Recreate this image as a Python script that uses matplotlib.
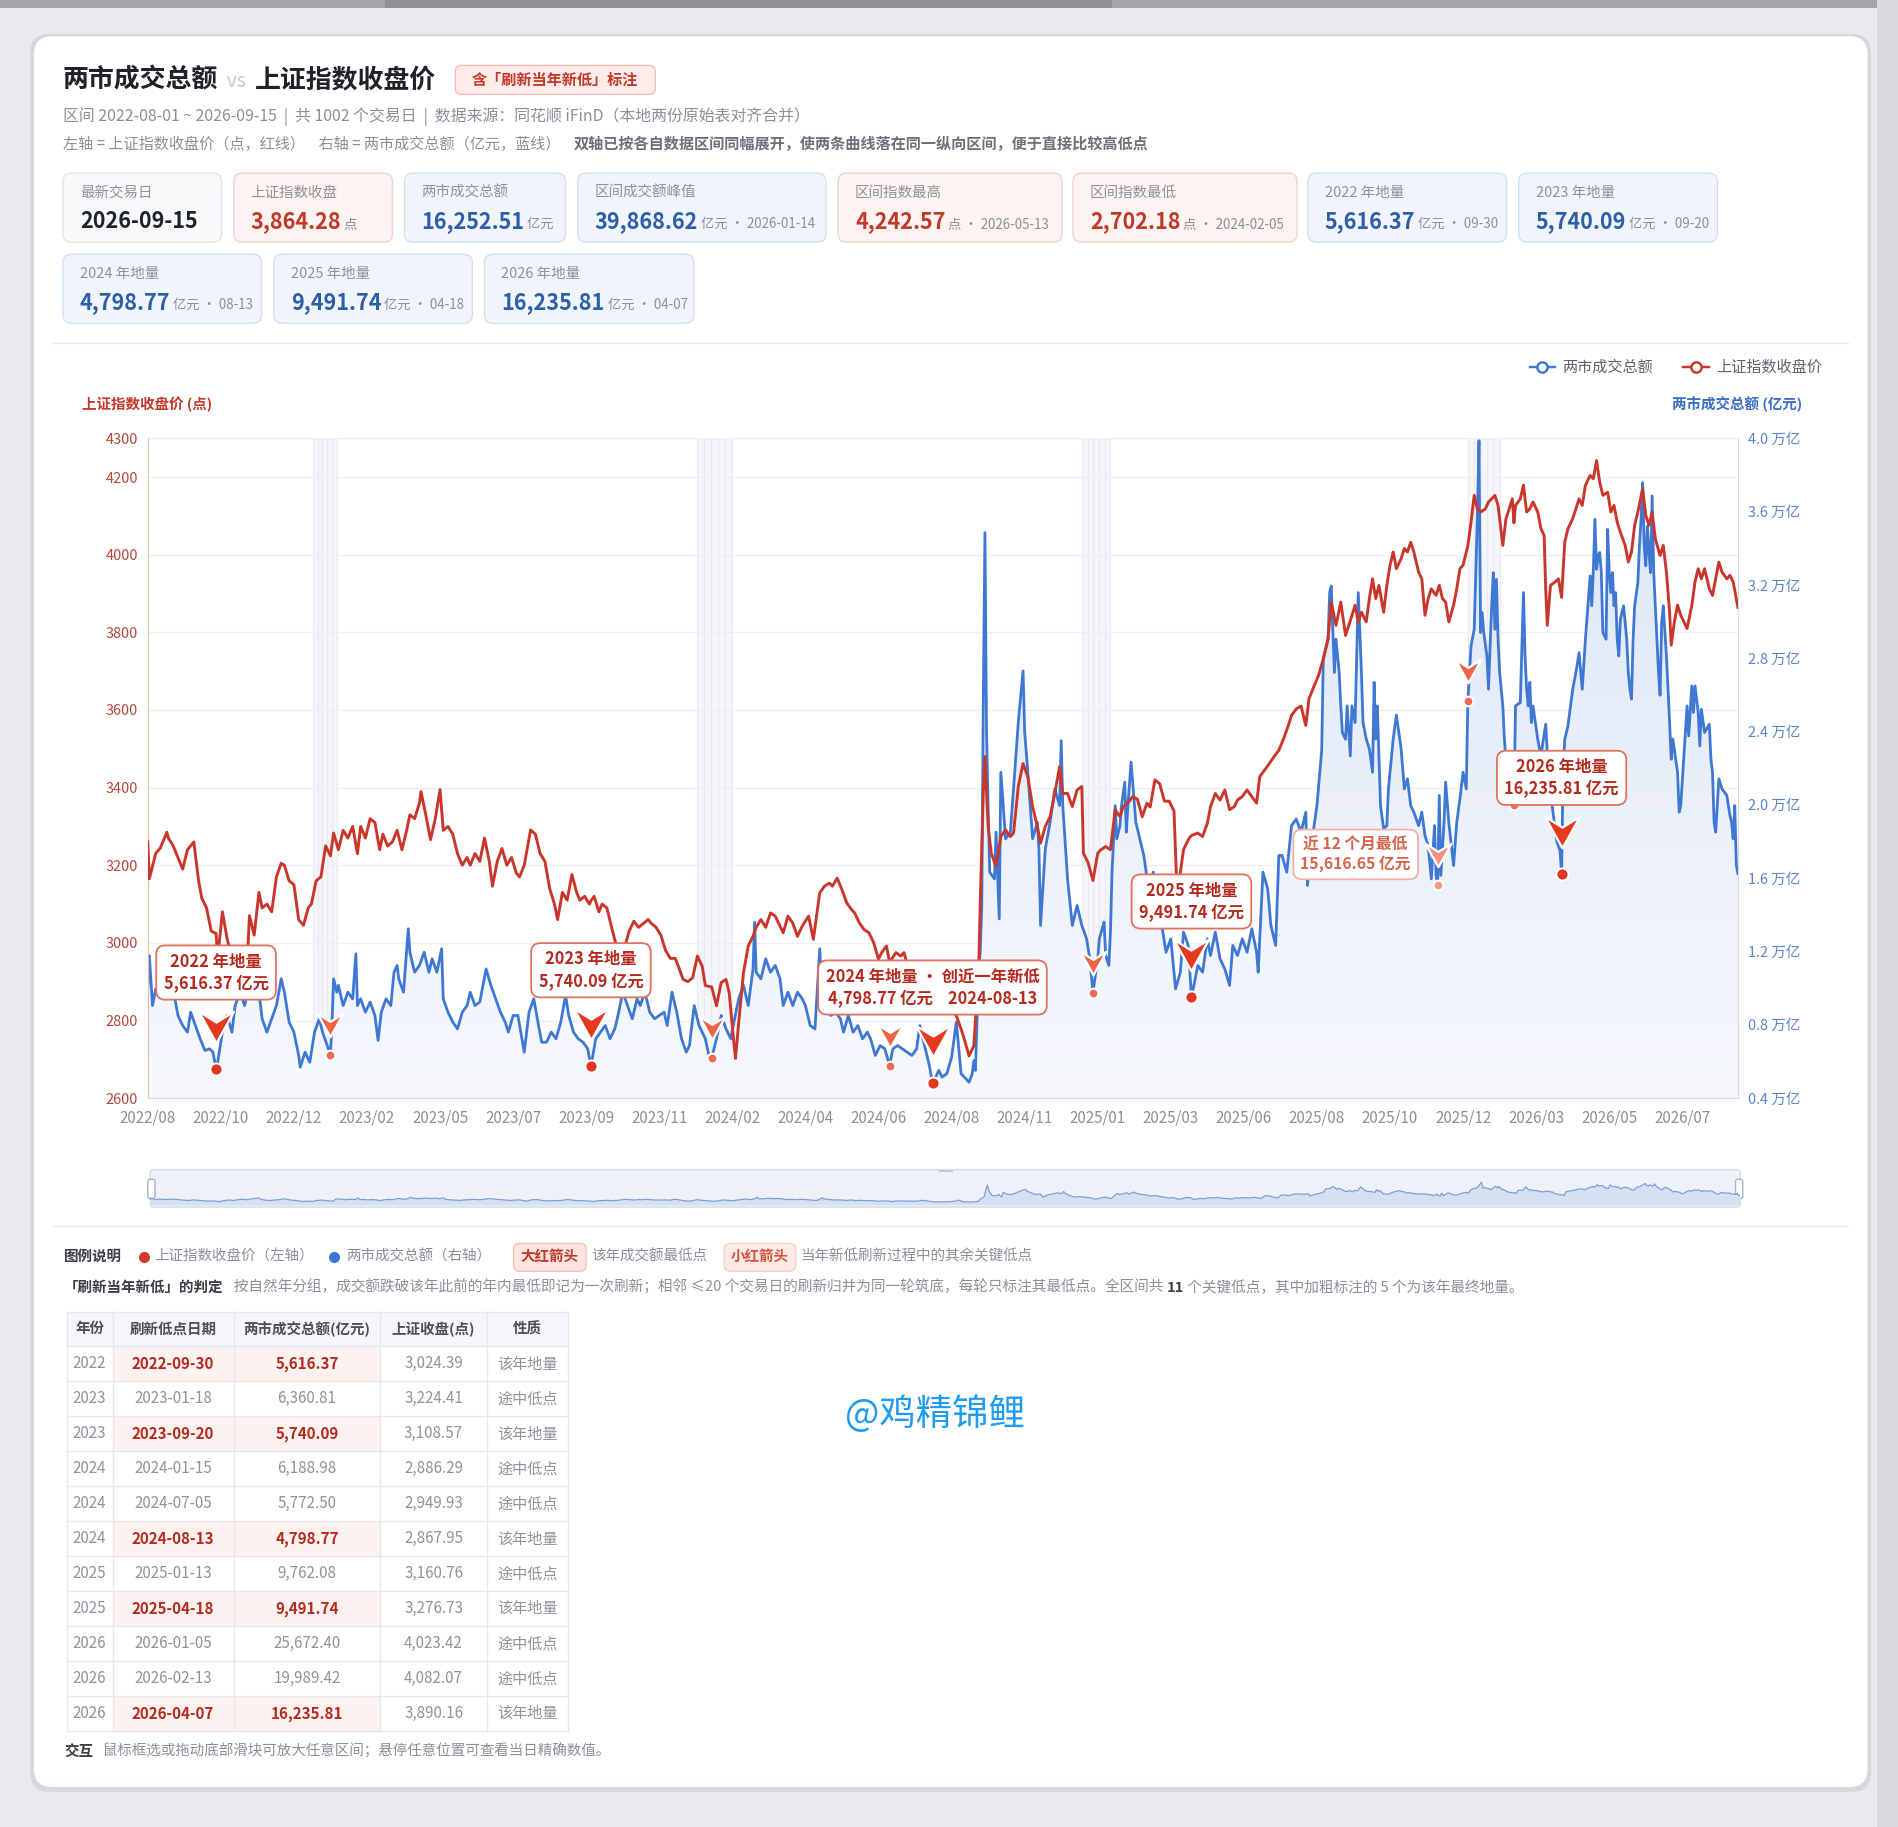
import numpy as np
import matplotlib
matplotlib.use('Agg')
import matplotlib.pyplot as plt
from matplotlib.patches import FancyBboxPatch, Rectangle
from matplotlib.path import Path
from matplotlib.colors import LinearSegmentedColormap
from matplotlib.transforms import blended_transform_factory, ScaledTranslation

plt.rcParams['font.family'] = ['Noto Sans CJK SC', 'DejaVu Sans']
plt.rcParams['axes.unicode_minus'] = False

# ------------------------------------------------------------------ data
# trading-day number (0 = 2022-08-01, 1001 = 2026-09-15), value
sh_series = [
    (0,3260),(1,3165),(5,3230),(8,3245),(12,3285),(13,3270),(16,3250),(19,3220),(22,3190),(25,3240),
    (29,3260),(32,3160),(34,3115),(37,3090),(40,3030),(44,2960),(47,3080),(50,3010),(53,2960),(55,2900),
    (58,2930),(60,2960),(62,2895),(64,3070),(67,3020),(70,3130),(72,3090),(75,3100),(78,3080),(81,3170),
    (84,3205),(86,3200),(89,3160),(92,3150),(95,3060),(98,3045),(101,3090),(103,3100),(106,3160),(109,3170),
    (112,3250),(117,3283),(120,3240),(123,3290),(126,3270),(129,3300),(132,3230),(134,3300),(137,3270),(140,3320),
    (143,3310),(146,3240),(148,3280),(151,3250),(154,3260),(157,3290),(160,3240),(163,3290),(165,3330),(168,3320),
    (171,3360),(172,3390),(175,3330),(178,3266),(181,3320),(184,3395),(186,3290),(189,3300),(192,3280),(195,3230),
    (198,3200),(201,3220),(203,3200),(206,3230),(209,3210),(212,3270),(215,3210),(217,3146),(220,3210),(223,3243),
    (226,3200),(229,3220),(232,3180),(234,3170),(237,3200),(241,3291),(244,3280),(247,3230),(250,3210),(253,3140),
    (256,3100),(258,3060),(261,3130),(264,3110),(267,3176),(270,3130),(272,3110),(275,3120),(278,3100),(281,3120),
    (284,3080),(286,3100),(289,3090),(292,3040),(295,2992),(298,2980),(301,3000),(303,3030),(306,3056),(309,3040),
    (312,3050),(315,3060),(317,3050),(320,3040),(323,3020),(326,2980),(329,2960),(332,2960),(334,2940),(337,2906),
    (340,2900),(343,2910),(346,2966),(349,2940),(351,2890),(358,2838),(361,2898),(364,2906),(366,2872),(369,2740),
    (370,2702.18),(372,2795),(375,2923),(378,2992),(381,3017),(383,3040),(386,3060),(389,3040),(392,3077),(395,3069),
    (398,3043),(400,3026),(403,3069),(406,3051),(409,3017),(412,3043),(416,3069),(419,3009),(423,3129),(426,3146),
    (429,3154),(431,3146),(434,3167),(437,3137),(440,3103),(443,3086),(445,3077),(448,3051),(451,3034),(454,3026),
    (457,3000),(460,2958),(462,2975),(465,2992),(471,2975),(474,2966),(476,2975),(479,2932),(482,2900),(485,2890),
    (488,2880),(491,2870),(497,2860),(500,2850),(503,2840),(506,2830),(509,2812),(512,2778),(514,2752),(517,2709),
    (520,2735),(522,2860),(523,2923),(524,3094),(526,3394),(527,3480),(529,3300),(531,3231),(534,3197),(537,3274),
    (540,3291),(543,3274),(545,3283),(548,3403),(551,3462),(554,3428),(557,3351),(560,3300),(562,3257),(565,3300),
    (568,3325),(571,3386),(574,3454),(576,3385),(579,3385),(582,3351),(585,3394),(588,3403),(589,3231),(592,3206),
    (598,3231),(600,3240),(603,3248),(606,3240),(609,3343),(612,3325),(614,3351),(617,3360),(620,3377),(623,3370),
    (626,3325),(629,3360),(631,3350),(634,3420),(637,3410),(640,3365),(643,3365),(646,3340),(648,3120),(650,3180),
    (652,3240),(655,3266),(661,3283),(664,3274),(667,3308),(669,3351),(672,3385),(675,3368),(678,3394),(681,3343),
    (684,3351),(686,3368),(689,3377),(692,3394),(695,3377),(698,3360),(700,3428),(703,3445),(706,3462),(709,3480),
    (712,3496),(715,3526),(718,3560),(720,3586),(723,3603),(726,3610),(729,3560),(731,3629),(734,3660),(737,3689),
    (740,3732),(743,3784),(745,3878),(748,3818),(751,3878),(754,3792),(757,3830),(760,3870),(762,3827),(764,3852),
    (767,3827),(769,3887),(771,3938),(773,3887),(775,3921),(778,3852),(780,3921),(782,3973),(784,4007),(786,3964),
    (789,3990),(791,4016),(793,4007),(795,4032),(797,4007),(800,3955),(802,3938),(804,3844),(806,3887),(808,3912),
    (811,3895),(813,3921),(815,3887),(817,3878),(819,3827),(822,3870),(824,3912),(826,3964),(828,3973),(833,4084),
    (835,4153),(837,4118),(839,4110),(842,4118),(844,4136),(846,4144),(848,4153),(850,4127),(853,4024),(855,4093),
    (857,4118),(859,4144),(861,4127),(864,4144),(866,4179),(868,4110),(870,4118),(872,4136),(875,4110),(877,4067),
    (879,4050),(880,3912),(881,3818),(883,3921),(886,3930),(888,3938),(892,4033),(894,4067),(897,4093),(899,4118),
    (901,4144),(903,4127),(905,4179),(908,4204),(910,4196),(912,4242.57),(914,4187),(916,4153),(919,4161),(921,4110),
    (923,4127),(925,4084),(927,4058),(930,4024),(932,3981),(934,4007),(936,4076),(938,4110),(941,4170),(943,4101),
    (945,4076),(947,4110),(949,4041),(952,3998),(954,4024),(956,3955),(958,3852),(959,3767),(961,3827),(963,3870),
    (965,3844),(967,3827),(969,3810),(972,3870),(974,3930),(976,3964),(978,3938),(980,3964),(983,3912),(985,3895),
    (987,3938),(989,3981),(991,3955),(994,3938),(996,3947),(998,3930),(1000,3887),(1001,3864.28),
]

amt_series = [
    (0,9960),(1,11780),(3,9050),(5,9960),(8,9780),(10,9420),(13,9780),(16,9960),(19,8510),(22,7960),
    (25,7600),(27,8690),(30,7960),(33,7240),(36,6600),(39,6690),(41,6510),(44,5960),(47,7600),(50,8510),
    (53,7600),(55,9050),(58,9780),(61,9050),(64,10330),(68,12180),(70,9780),(72,8330),(75,7600),(78,8330),
    (81,9050),(84,10510),(86,9780),(89,8150),(92,7600),(95,6330),(96,5690),(99,6510),(102,5960),(105,7600),
    (108,8330),(110,7600),(113,6870),(116,8150),(117,10510),(119,9780),(120,10150),(123,9050),(126,9780),(129,9420),
    (131,11870),(132,9050),(134,9420),(137,8690),(140,9240),(143,8510),(145,7150),(147,8690),(150,9420),(153,9050),
    (155,10870),(157,11240),(158,10510),(161,9780),(164,13240),(165,11960),(168,10870),(171,11240),(174,11960),(177,10870),
    (179,11600),(182,10870),(185,12150),(186,9420),(189,8690),(192,8150),(195,7780),(198,8690),(201,9050),(203,9780),
    (206,9050),(209,9240),(213,11050),(216,10150),(219,9420),(222,8690),(225,8150),(227,7600),(230,8510),(233,8510),
    (237,6510),(240,8690),(243,9420),(246,7960),(248,7050),(251,7050),(254,7600),(257,7240),(260,8150),(263,9600),
    (265,8510),(268,7600),(271,7240),(274,7050),(277,6690),(282,7240),(285,7600),(288,7960),(291,7240),(294,7780),
    (296,8510),(299,9780),(302,9050),(305,8330),(308,9420),(310,9050),(313,9780),(316,8690),(319,8330),(322,8510),
    (325,8690),(327,7960),(330,9780),(333,8690),(336,7240),(339,6510),(341,6870),(344,9050),(347,7960),(351,7240),
    (353,6420),(358,7240),(361,8510),(364,7780),(367,7240),(369,8150),(372,9420),(375,10150),(378,9050),(381,11050),
    (382,13600),(383,10870),(386,10510),(389,11600),(392,10870),(395,11240),(398,10510),(400,9050),(403,9780),(406,9050),
    (409,9780),(412,9420),(414,9050),(417,7960),(420,7780),(423,12150),(424,10510),(427,9420),(430,8510),(433,8690),
    (436,8330),(438,7600),(441,8510),(444,7600),(447,7960),(450,7240),(453,7600),(455,7240),(458,6330),(461,6870),
    (464,6690),(469,6690),(472,6870),(475,6690),(478,6510),(481,6330),(484,6690),(486,7960),(489,6870),(492,5780),
    (498,5510),(500,5150),(503,5330),(506,6230),(509,8150),(512,5330),(514,5150),(517,4870),(519,5330),(520,6050),
    (521,5510),(523,10870),(524,11960),(525,14400),(526,26000),(527,34850),(528,24000),(529,19960),(530,16330),(533,15960),
    (534,18510),(536,13780),(537,21780),(540,18150),(543,18510),(545,20870),(548,24500),(551,27310),(552,24000),(554,21780),
    (557,18150),(560,19050),(561,17600),(562,13420),(565,17600),(568,19050),(571,20870),(574,19960),(575,23500),(576,19960),
    (579,15960),(582,13420),(585,14510),(588,13420),(591,12690),(593,11600),(598,11600),(599,12690),(602,13600),(603,11780),
    (605,11240),(606,13060),(607,16330),(609,19960),(610,18150),(612,18870),(613,19960),(615,21240),(616,18510),(617,19960),
    (619,22330),(622,19050),(624,18330),(627,17240),(630,15420),(633,16330),(636,14510),(638,13600),(641,11960),(644,12690),
    (647,9960),(650,10870),(652,13060),(655,12330),(661,11240),(664,10870),(667,12690),(669,11780),(672,13060),(675,11600),
    (678,11050),(681,10150),(683,12330),(686,11780),(689,12690),(692,11960),(695,13240),(698,11960),(699,10870),(702,16330),
    (705,15420),(707,13420),(710,12330),(712,17240),(714,17240),(717,16330),(720,18870),(723,19230),(726,18510),(729,19600),
    (730,15600),(733,18150),(736,19960),(739,23000),(740,27950),(743,29040),(744,31580),(745,31940),(747,27220),(748,29040),
    (750,27220),(751,25400),(752,23950),(754,23580),(755,25400),(757,22670),(758,25400),(760,24490),(762,31580),(764,27220),
    (765,24490),(767,23600),(769,23050),(771,21780),(772,26690),(773,23600),(774,25400),(775,22690),(776,19960),(778,18690),
    (780,18870),(781,20870),(782,21780),(784,23600),(786,24900),(789,23050),(791,20870),(793,21420),(795,19960),(797,19600),
    (800,18870),(802,19600),(804,18330),(806,17780),(808,15960),(810,18870),(811,16150),(812,15616.65),(813,20510),(814,16150),
    (815,17600),(816,19050),(817,21240),(819,19050),(822,16690),(824,19050),(826,20330),(828,21780),(830,20870),(832,27220),
    (833,28670),(835,29580),(836,32670),(837,35760),(838,39868.62),(839,29400),(840,30490),(841,29400),(843,28120),(844,26310),
    (845,28670),(846,30860),(847,32670),(848,29580),(849,32310),(850,29040),(851,27220),(853,25400),(854,23580),(855,22490),
    (856,21780),(858,21500),(861,25400),(864,25580),(866,31580),(867,28120),(868,26310),(869,25400),(870,26690),(871,24490),
    (872,25400),(875,23580),(877,22670),(880,24400),(881,22850),(883,22490),(884,20000),(887,18000),(889,17500),(891,22000),
    (892,23580),(894,24310),(897,26310),(899,27220),(901,28310),(903,26310),(905,29040),(908,32490),(909,30860),(910,32850),
    (911,35580),(912,32850),(913,33580),(914,33770),(915,32670),(916,29400),(918,29040),(919,35030),(920,32670),(921,31580),
    (922,32670),(923,30860),(924,31580),(925,29040),(926,28120),(927,30130),(929,30860),(930,29950),(931,29040),(932,27220),
    (933,26310),(934,25770),(935,29040),(936,30860),(938,32130),(939,34130),(940,35580),(941,37580),(942,34130),(943,33040),
    (944,35210),(945,33770),(946,32670),(947,36850),(948,32670),(949,30860),(951,27220),(952,25980),(953,29950),(954,30860),
    (956,28120),(957,26310),(958,24490),(959,22490),(960,23600),(963,21780),(964,19600),(965,19960),(967,22690),(969,25400),
    (970,23760),(972,26490),(973,25040),(974,26490),(976,25040),(977,23220),(978,25220),(980,23950),(983,24400),(984,22490),
    (985,21780),(986,19050),(987,18510),(989,21420),(991,20870),(994,20510),(996,19410),(997,19050),(998,18150),(999,19960),
    (1000,16690),(1001,16252.51),
]

# key low points (table)
low_year  = ['2022','2023','2023','2024','2024','2024','2025','2025','2026','2026','2026']
low_date  = ['2022-09-30','2023-01-18','2023-09-20','2024-01-15','2024-07-05','2024-08-13',
             '2025-01-13','2025-04-18','2026-01-05','2026-02-13','2026-04-07']
low_day   = [43, 115, 279, 355, 467, 494, 595, 657, 831, 860, 890]
low_amt   = [5616.37, 6360.81, 5740.09, 6188.98, 5772.50, 4798.77, 9762.08, 9491.74, 25672.40, 19989.42, 16235.81]
low_close = [3024.39, 3224.41, 3108.57, 2886.29, 2949.93, 2867.95, 3160.76, 3276.73, 4023.42, 4082.07, 3890.16]
low_kind  = ['该年地量','途中低点','该年地量','途中低点','途中低点','该年地量','途中低点','该年地量','途中低点','途中低点','该年地量']
near12_day, near12_amt = 812, 15616.65

# year-start shaded bands (trading-day ranges)
band_days = [(104, 119), (346, 368), (588, 606), (831, 851)]

x_tick_labels = ['2022/08','2022/10','2022/12','2023/02','2023/05','2023/07','2023/09','2023/11',
                 '2024/02','2024/04','2024/06','2024/08','2024/11','2025/01','2025/03','2025/06',
                 '2025/08','2025/10','2025/12','2026/03','2026/05','2026/07']
left_ticks = [2600, 2800, 3000, 3200, 3400, 3600, 3800, 4000, 4200, 4300]
right_ticks = [4000, 8000, 12000, 16000, 20000, 24000, 28000, 32000, 36000, 40000]

kpi_labels = ['最新交易日','上证指数收盘','两市成交总额','区间成交额峰值','区间指数最高','区间指数最低',
              '2022 年地量','2023 年地量','2024 年地量','2025 年地量','2026 年地量']
kpi_values = ['2026-09-15','3,864.28','16,252.51','39,868.62','4,242.57','2,702.18',
              '5,616.37','5,740.09','4,798.77','9,491.74','16,235.81']
kpi_units = ['','点','亿元','亿元 · 2026-01-14','点 · 2026-05-13','点 · 2024-02-05',
             '亿元 · 09-30','亿元 · 09-20','亿元 · 08-13','亿元 · 04-18','亿元 · 04-07']
kpi_kind = ['n','r','b','b','r','r','b','b','b','b','b']

# merge key lows into the series
sh_d = dict(sh_series); sh_d.update(dict(zip(low_day, low_close)))
amt_d = dict(amt_series); amt_d.update(dict(zip(low_day, low_amt)))
sh_day = np.array(sorted(sh_d)); sh_val = np.array([sh_d[k] for k in sh_day])
amt_day = np.array(sorted(amt_d)); amt_val = np.array([amt_d[k] for k in amt_day])

# ------------------------------------------------------------------ layout helpers
W, H = 1568, 1509
FW, FH, DPI = 1899, 1827, 100
S = FW / W
def fs(px):
    return px * S * 72 / DPI

fig = plt.figure(figsize=(FW / DPI, FH / DPI), dpi=DPI, facecolor='#e9eaee')
bg = fig.add_axes([0, 0, 1, 1], zorder=0)
bg.set_xlim(0, W); bg.set_ylim(H, 0); bg.axis('off')
renderer = fig.canvas.get_renderer()

def rbox(x0, y0, x1, y1, fc, ec='none', r=6, lw=1.0, z=1, ax=None):
    p = FancyBboxPatch((x0, y0), x1 - x0, y1 - y0, boxstyle=f'round,pad=0,rounding_size={r}',
                       fc=fc, ec=ec, lw=lw, zorder=z)
    (ax or bg).add_patch(p)
    return p

def T(x, y, s, px, color, weight='normal', ha='left', va='center', z=5, **kw):
    return bg.text(x, y, s, fontsize=fs(px), color=color, fontweight=weight,
                   ha=ha, va=va, zorder=z, **kw)

def seq(x, y, parts, va='baseline'):
    for s, px, color, weight in parts:
        t = T(x, y, s, px, color, weight, va=va)
        x += t.get_window_extent(renderer).width / S
    return x

RED_T = '#c0392b'
BLUE_T = '#2f5ea8'
GRAY_T = '#8a8f99'

# ------------------------------------------------------------------ page background
bg.add_patch(Rectangle((0, 0), W, 7, fc='#a3a5ab', ec='none', zorder=0.5))
bg.add_patch(Rectangle((318, 0), 600, 7, fc='#8e9096', ec='none', zorder=0.6))
bg.add_patch(Rectangle((1550, 0), 18, H, fc='#d9dade', ec='none', zorder=0.5))
rbox(25, 28, 1545, 1480, fc='#d6d7dc', r=16, z=0.8)
rbox(28, 30, 1542, 1476, fc='white', r=15, z=0.9)

# ------------------------------------------------------------------ header
seq(52, 72, [('两市成交总额', 21.4, '#1f2329', 'bold'), ('  vs  ', 16, '#c3c7d0', 'normal'),
             ('上证指数收盘价', 21.4, '#1f2329', 'bold')])
rbox(376, 54, 541, 78, fc='#fdecea', ec='#f2bdb5', r=5, lw=1)
T(458.5, 66, '含「刷新当年新低」标注', 12.5, RED_T, 'bold', ha='center')
T(52, 96, '区间 2022-08-01 ~ 2026-09-15  |  共 1002 个交易日  |  数据来源：同花顺 iFinD（本地两份原始表对齐合并）',
  13.1, GRAY_T)
seq(52, 123, [('左轴 = 上证指数收盘价（点，红线）    右轴 = 两市成交总额（亿元，蓝线）    ', 12.5, GRAY_T, 'normal'),
              ('双轴已按各自数据区间同幅展开，使两条曲线落在同一纵向区间，便于直接比较高低点', 12.5, '#6b707a', 'bold')])

# KPI cards
kpi_box = [(52, 143, 183, 200), (193, 143, 324, 200), (334, 143, 467, 200), (477, 143, 682, 200),
           (692, 143, 877, 200), (886, 143, 1071, 200), (1080, 143, 1244, 200), (1254, 143, 1418, 200),
           (52, 210, 216, 267), (226, 210, 390, 267), (400, 210, 573, 267)]
card_style = {'n': ('#f8f9fb', '#e1e4ea', '#1f2329'),
              'r': ('#fdf3f1', '#f1d3cd', RED_T),
              'b': ('#f0f5fc', '#d4e0f1', BLUE_T)}
for (x0, y0, x1, y1), lab, val, unit, kind in zip(kpi_box, kpi_labels, kpi_values, kpi_units, kpi_kind):
    fc, ec, vc = card_style[kind]
    rbox(x0, y0, x1, y1, fc=fc, ec=ec, r=7, lw=1)
    T(x0 + 14, y0 + 16, lab, 12, '#8d929b')
    seq(x0 + 14, y0 + 45, [(val, 17.8, vc, 'bold'), (' ' + unit if unit else '', 11, GRAY_T, 'normal')])

bg.plot([44, 1526], [283, 283], color='#e8eaef', lw=1, zorder=1)

# legend (top right)
for x0, name, col in [(1263, '两市成交总额', '#3f78d2'), (1390, '上证指数收盘价', '#c9372c')]:
    bg.plot([x0, x0 + 21], [303, 303], color=col, lw=fs(2), zorder=3)
    bg.plot([x0 + 10.5], [303], 'o', ms=fs(8.5), mfc='white', mec=col, mew=fs(2), zorder=4)
    T(x0 + 27, 303, name, 12.5, '#5c616b')

T(68, 334, '上证指数收盘价 (点)', 12, RED_T, 'bold')
T(1488, 334, '两市成交总额 (亿元)', 12, '#3a6cc8', 'bold', ha='right')

# ------------------------------------------------------------------ main chart
PX0, PX1, PY0, PY1 = 122, 1435, 362, 907
axL = fig.add_axes([PX0 / W, 1 - PY1 / H, (PX1 - PX0) / W, (PY1 - PY0) / H])
axR = axL.twinx()
axR.set_zorder(2); axL.set_zorder(3)
axL.patch.set_visible(False); axR.patch.set_visible(False)
axL.set_xlim(0, 1001); axL.set_ylim(2600, 4300); axR.set_ylim(4000, 40000)
axL.set_autoscale_on(False); axR.set_autoscale_on(False)

# bands
for s, e in band_days:
    axR.axvspan(s, e, color='#f5f6f9', lw=0, zorder=0.3)
    for xv in np.linspace(s, e, 6):
        axR.axvline(xv, color='#e9ebf0', lw=0.9, zorder=0.35)

# grid (left-axis ticks)
gtr = blended_transform_factory(axR.transAxes, axL.transData)
for v in left_ticks:
    axR.plot([0, 1], [v, v], transform=gtr, color='#eef0f4', lw=1, zorder=0.4)

# gradient area under turnover
coll = axR.fill_between(amt_day, amt_val, 4000, facecolor='none', edgecolor='none')
clip = coll.get_paths()[0]
grad = np.linspace(0, 1, 256).reshape(-1, 1)
cmap = LinearSegmentedColormap.from_list('g', ['#f6f8fd', '#dce6f6'])
im = axR.imshow(grad, extent=(0, 1001, 4000, 40000), origin='lower', aspect='auto', cmap=cmap, zorder=0.5)
im.set_clip_path(clip, transform=axR.transData)
axR.set_xlim(0, 1001); axR.set_ylim(4000, 40000)

axR.plot(amt_day, amt_val, color='#3f78d2', lw=fs(2.3), zorder=3, solid_joinstyle='round')
axL.plot(sh_day, sh_val, color='#c9372c', lw=fs(2.4), zorder=3, solid_joinstyle='round')

# spines / ticks
for sp in ['top']:
    axL.spines[sp].set_visible(False); axR.spines[sp].set_visible(False)
axL.spines['right'].set_visible(False)
axR.spines['left'].set_visible(False)
axL.spines['left'].set_color('#ebbab3')
axR.spines['right'].set_color('#d3dae6')
axL.spines['bottom'].set_color('#d7dbe3'); axR.spines['bottom'].set_color('#d7dbe3')
axL.set_yticks(left_ticks)
axL.set_yticklabels([str(v) for v in left_ticks])
axL.tick_params(axis='y', length=0, pad=fs(8), labelsize=fs(12), labelcolor='#b5473a')
axR.set_yticks(right_ticks)
axR.set_yticklabels([f'{v / 10000:.1f} 万亿' for v in right_ticks])
axR.tick_params(axis='y', length=0, pad=fs(8), labelsize=fs(12), labelcolor='#5b84c8')
axL.set_xticks(np.arange(len(x_tick_labels)) * 46)
axL.set_xticklabels(x_tick_labels)
axL.tick_params(axis='x', length=0, pad=fs(9), labelsize=fs(12.5), labelcolor='#8b9099')

# arrows + dots + labels
arrow = Path([(-1, 0.9), (0, 0.28), (1, 0.9), (0, -0.9), (-1, 0.9)],
             [Path.MOVETO, Path.LINETO, Path.LINETO, Path.LINETO, Path.CLOSEPOLY])

def off(dy_px, dx_px=0):
    return axR.transData + ScaledTranslation(dx_px / DPI, dy_px / DPI, fig.dpi_scale_trans)

def mark(day, val, big, light=False):
    if big:
        col, ms, dy, dcol, dms = '#e5391f', 35 * 0.72, 42, '#e2341f', fs(10)
    else:
        col = '#f4917c' if light else '#ee6447'
        ms, dy, dcol, dms = 26 * 0.72, 30, ('#f29a88' if light else '#ee6a55'), fs(8)
    axL.plot([day], [val], ls='none', marker=arrow, ms=ms, mfc=col, mec='white', mew=1.6,
             transform=off(dy), zorder=7, clip_on=False)
    axL.plot([day], [val], ls='none', marker='o', ms=dms, mfc=dcol, mec='white', mew=1.4,
             transform=axR.transData, zorder=7, clip_on=False)

for d, a, k in zip(low_day, low_amt, low_kind):
    mark(d, a, k == '该年地量')
mark(near12_day, near12_amt, False, light=True)

box_kw = dict(boxstyle='round,pad=0.45,rounding_size=0.55', fc='white', ec='#e2705f', lw=1.3)
for d, a, k, y, dt in zip(low_day, low_amt, low_kind, low_year, low_date):
    if k != '该年地量':
        continue
    if y == '2024':
        txt = f'{y} 年地量 • 创近一年新低\n{a:,.2f} 亿元    {dt}'
    else:
        txt = f'{y} 年地量\n{a:,.2f} 亿元'
    axL.annotate(txt, xy=(d, a), xycoords=axR.transData, xytext=(0, 96 * 0.72),
                 textcoords='offset points', ha='center', va='center', fontsize=fs(13.5),
                 fontweight='bold', color='#b52a1e', bbox=box_kw, zorder=8, linespacing=1.25,
                 annotation_clip=False)
axL.annotate(f'近 12 个月最低\n{near12_amt:,.2f} 亿元', xy=(near12_day, near12_amt), xycoords=axR.transData,
             xytext=(-82 * 0.72, 31 * 0.72), textcoords='offset points', ha='center', va='center',
             fontsize=fs(13), fontweight='bold', color='#d5654f', linespacing=1.25, zorder=8,
             bbox=dict(boxstyle='round,pad=0.45,rounding_size=0.55', fc='white', ec='#f2ab9d', lw=1.2),
             annotation_clip=False)

# ------------------------------------------------------------------ data-zoom slider
rbox(124, 966, 1437, 997, fc='#eef2f8', ec='#d6dce7', r=3, lw=1, z=1)
axS = fig.add_axes([124 / W, 1 - 997 / H, (1437 - 124) / W, (997 - 966) / H], zorder=2)
axS.patch.set_visible(False)
axS.fill_between(amt_day, amt_val, 0, color='#d5e0f2', lw=0)
axS.plot(amt_day, amt_val, color='#7e9fd6', lw=0.9)
axS.set_xlim(0, 1001); axS.set_ylim(-4000, 62000); axS.axis('off')
for hx in (125, 1436):
    rbox(hx - 3, 974, hx + 3, 990, fc='white', ec='#a9b3c4', r=2, lw=1, z=4)
bg.plot([776, 786], [967.5, 967.5], color='#c4cad6', lw=1.5, zorder=4)

bg.plot([44, 1526], [1013, 1013], color='#e8eaef', lw=1, zorder=1)

# ------------------------------------------------------------------ legend explanation
T(53, 1038, '图例说明', 12, '#3b3f46', 'bold')
bg.plot([119], [1038], 'o', ms=fs(8), color='#d13b2e', zorder=4)
T(127, 1038, '上证指数收盘价（左轴）', 12, GRAY_T)
bg.plot([276], [1038], 'o', ms=fs(8), color='#3e77d3', zorder=4)
T(286, 1038, '两市成交总额（右轴）', 12, GRAY_T)
rbox(424, 1027, 484, 1050, fc='#fde4df', ec='#f4c3ba', r=5, lw=1)
T(454, 1038.5, '大红箭头', 12, RED_T, 'bold', ha='center')
T(488, 1038, '该年成交额最低点', 12, GRAY_T)
rbox(598, 1027, 657, 1050, fc='#fdeae6', ec='#f6cfc7', r=5, lw=1)
T(627.5, 1038.5, '小红箭头', 12, '#d2553f', 'bold', ha='center')
T(661, 1038, '当年新低刷新过程中的其余关键低点', 12, GRAY_T)

seq(53, 1067, [('「刷新当年新低」的判定', 12, '#3b3f46', 'bold'),
               ('   按自然年分组，成交额跌破该年此前的年内最低即记为一次刷新；相邻 ≤20 个交易日的刷新归并为同一轮筑底，'
                '每轮只标注其最低点。全区间共 ', 12.1, GRAY_T, 'normal'),
               ('11', 12, '#3b3f46', 'bold'),
               (' 个关键低点，其中加粗标注的 5 个为该年最终地量。', 12.1, GRAY_T, 'normal')])

# ------------------------------------------------------------------ table
cols = [55, 93, 193, 314, 402, 469]
heads = ['年份', '刷新低点日期', '两市成交总额(亿元)', '上证收盘(点)', '性质']
ty0, th, rh = 1084, 28, 28.9
bg.add_patch(Rectangle((cols[0], ty0), cols[-1] - cols[0], th, fc='#f5f6f9', ec='none', zorder=1))
for i, hname in enumerate(heads):
    T((cols[i] + cols[i + 1]) / 2, ty0 + th / 2, hname, 12, '#4a4f58', 'bold', ha='center')
for r in range(len(low_year)):
    y0 = ty0 + th + r * rh
    final = low_kind[r] == '该年地量'
    if final:
        bg.add_patch(Rectangle((cols[1], y0), cols[3] - cols[1], rh, fc='#fdf2f0', ec='none', zorder=1))
    cells = [low_year[r], low_date[r], f'{low_amt[r]:,.2f}', f'{low_close[r]:,.2f}', low_kind[r]]
    for c, txt in enumerate(cells):
        hl = final and c in (1, 2)
        T((cols[c] + cols[c + 1]) / 2, y0 + rh / 2, txt, 12.5, '#b52a1e' if hl else '#8d929b',
          'bold' if hl else 'normal', ha='center')
ybot = ty0 + th + len(low_year) * rh
for yy in [ty0] + [ty0 + th + r * rh for r in range(len(low_year) + 1)]:
    bg.plot([cols[0], cols[-1]], [yy, yy], color='#e6e8ed', lw=1, zorder=2)
for xx in cols:
    bg.plot([xx, xx], [ty0, ybot], color='#e6e8ed', lw=1, zorder=2)

seq(53, 1450, [('交互', 12, '#3b3f46', 'bold'),
               ('   鼠标框选或拖动底部滑块可放大任意区间；悬停任意位置可查看当日精确数值。', 12, GRAY_T, 'normal')])

# watermark
T(772, 1168, '@鸡精锦鲤', 30, '#1f9cf0', ha='center')

fig.savefig('out.png', dpi=DPI, facecolor=fig.get_facecolor())
